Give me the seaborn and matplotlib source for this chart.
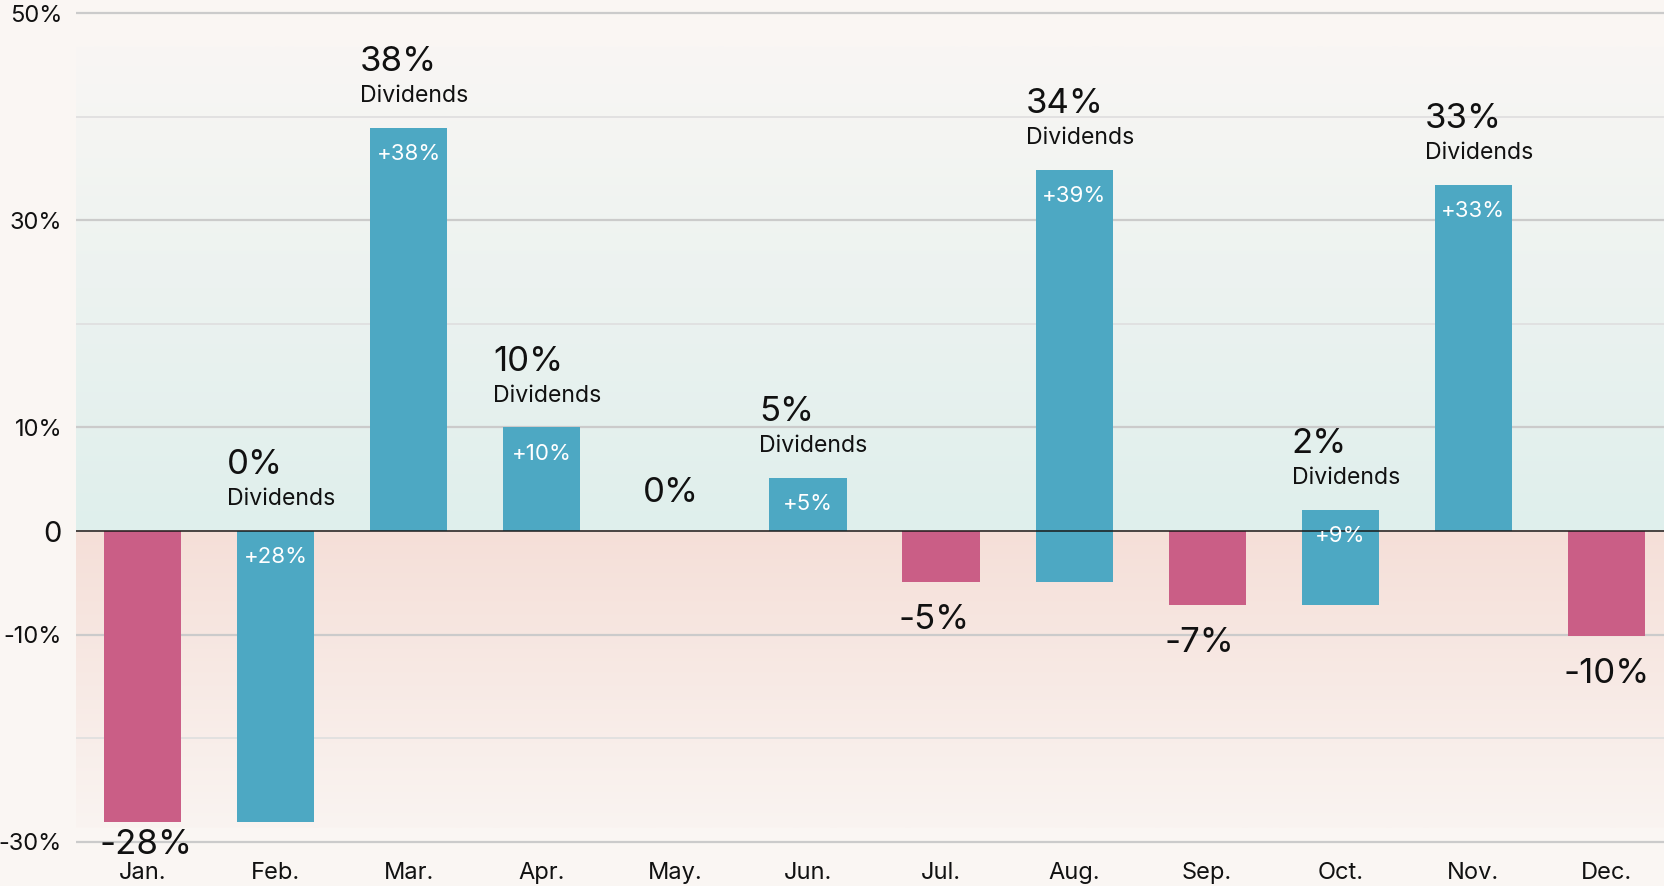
import numpy as np
import pandas as pd
import matplotlib
matplotlib.use("Agg")
import matplotlib.pyplot as plt
import matplotlib.colors as mcolors
import seaborn as sns

# ---------------- data ----------------
months = ["Jan.", "Feb.", "Mar.", "Apr.", "May.", "Jun.",
          "Jul.", "Aug.", "Sep.", "Oct.", "Nov.", "Dec."]
monthly_return = [-28.1, 0.0, 38.9, 10.0, 0.0, 5.1, -4.9, 34.9, -7.1, 2.0, 33.4, -10.1]
dividend = [0.0, 28.1, 38.9, 10.0, 0.0, 5.1, 0.0, 39.8, 0.0, 9.1, 33.4, 0.0]
return_labels = ["-28%", "0%", "38%", "10%", "0%", "5%",
                 "-5%", "34%", "-7%", "2%", "33%", "-10%"]
dividend_labels = ["", "+28%", "+38%", "+10%", "", "+5%",
                   "", "+39%", "", "+9%", "+33%", ""]
ytick_values = [50, 30, 10, 0, -10, -30]
ytick_labels = ["50%", "30%", "10%", "0", "-10%", "-30%"]
minor_grid = [40, 20, -20]

# ---------------- style ----------------
BG = "#FAF6F3"
BLUE = "#4DA8C3"
RED = "#CA5E86"

sns.set_theme(style="white")
plt.rcParams["font.family"] = ["Inter", "DejaVu Sans"]

fig = plt.figure(figsize=(16.65, 8.86), dpi=100, facecolor=BG)
ax = fig.add_axes([76 / 1665, 0.03832, (1673 - 76) / 1665, 0.95835])
ax.set_facecolor(BG)

XL = (-0.5, 11.5)
YL = (-31, 51)

# gradient background
n = 256
t = np.linspace(0, 1, n)[:, None]
c_top = np.array(mcolors.to_rgb("#F9F6F4"))
c_up0 = np.array(mcolors.to_rgb("#DFEFEC"))
c_dn0 = np.array(mcolors.to_rgb("#F5DFD8"))
c_bot = np.array(mcolors.to_rgb("#FAF4F1"))
grad_up = (1 - t) * c_top + t * c_up0
grad_dn = (1 - t) * c_dn0 + t * c_bot
ax.imshow(grad_up[:, None, :], extent=[XL[0], XL[1], 0, 46.8], origin="upper",
          aspect="auto", zorder=0, interpolation="bilinear")
ax.imshow(grad_dn[:, None, :], extent=[XL[0], XL[1], -28.7, 0], origin="upper",
          aspect="auto", zorder=0, interpolation="bilinear")

# grid lines
for v in ytick_values:
    if v != 0:
        ax.axhline(v, color="#CBCBCB", lw=1.6, zorder=1)
for v in minor_grid:
    ax.axhline(v, color="#E0E0E0", lw=1.3, zorder=1)

# bars
bottoms, tops, colors = [], [], []
for r, d in zip(monthly_return, dividend):
    if d > 0:
        bottoms.append(r - d); tops.append(r); colors.append(BLUE)
    elif r < 0:
        bottoms.append(r); tops.append(0.0); colors.append(RED)
    else:
        bottoms.append(0.0); tops.append(0.0); colors.append(BLUE)
spans = [tp - b for tp, b in zip(tops, bottoms)]
df = pd.DataFrame({"month": months, "span": spans})
sns.barplot(data=df, x="month", y="span", hue="month", palette=colors,
            legend=False, width=0.58, saturation=1, errorbar=None,
            ax=ax, zorder=2)
bars = sorted(ax.patches, key=lambda p: p.get_x())
for p, b in zip(bars, bottoms):
    p.set_y(b)
    p.set_linewidth(0)

# zero line
ax.axhline(0, color="#1A1A1A", lw=1.1, zorder=3)

# labels
W = 0.58
for i, (r, d) in enumerate(zip(monthly_return, dividend)):
    if d > 0:
        top = tops[i]
        ax.text(i - 0.365, top + 5.5, return_labels[i], fontsize=25,
                ha="left", va="baseline", color="#111111", zorder=4)
        ax.text(i - 0.365, top + 2.5, "Dividends", fontsize=16.6,
                ha="left", va="baseline", color="#111111", zorder=4)
        ax.text(i, top - 3.1, dividend_labels[i], fontsize=16,
                ha="center", va="baseline", color="white", zorder=4)
    elif r < 0:
        yb = max(r - 4.55, -31.2)
        ax.text(i - W / 2 - 0.03, yb, return_labels[i], fontsize=25,
                ha="left", va="baseline", color="#111111", zorder=4)
    else:
        ax.text(i - 0.03, 2.8, return_labels[i], fontsize=25,
                ha="center", va="baseline", color="#111111", zorder=4)

# axes cosmetics
ax.set_xlim(*XL)
ax.set_ylim(*YL)
for s in ax.spines.values():
    s.set_visible(False)
ax.set_xlabel("")
ax.set_ylabel("")
ax.set_yticks(ytick_values)
ax.set_yticklabels(ytick_labels)
ax.set_xticks(range(len(months)))
ax.set_xticklabels(months)
ax.tick_params(axis="y", length=0, pad=10, labelsize=17, labelcolor="#111111")
ax.tick_params(axis="x", length=0, pad=7, labelsize=17, labelcolor="#111111")
for lab in ax.get_yticklabels():
    if lab.get_text() == "0":
        lab.set_fontsize(21)
ax.grid(False)

fig.savefig("out.png", dpi=100, facecolor=BG)
